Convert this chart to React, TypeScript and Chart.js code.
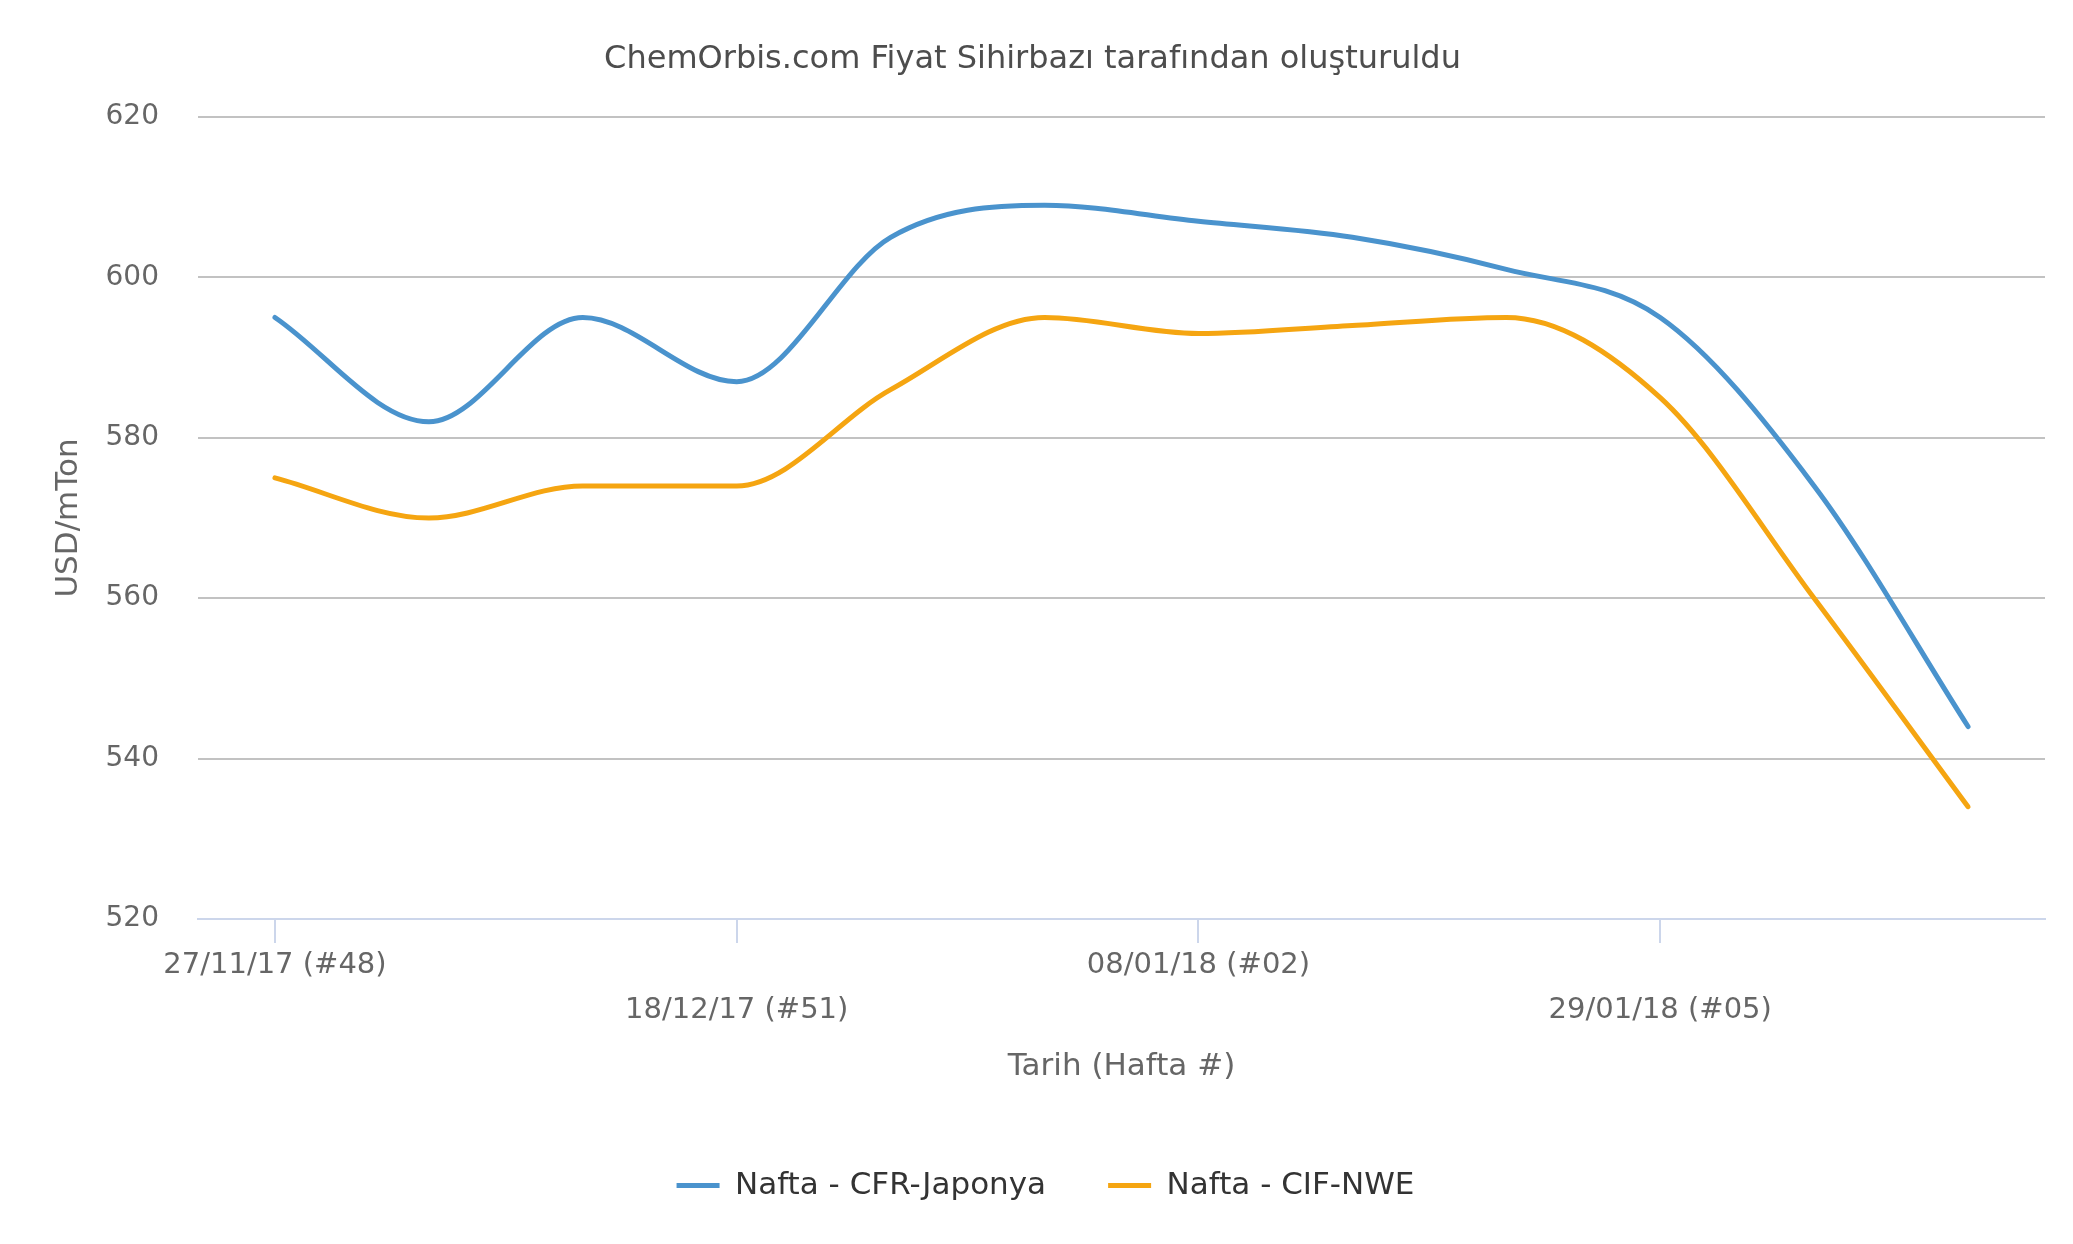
import React, { useEffect, useRef } from 'react';
import { Chart, registerables } from 'chart.js';

Chart.register(...registerables);

// ---- data ----
const weeks = [
  '27/11/17 (#48)', '04/12/17 (#49)', '11/12/17 (#50)', '18/12/17 (#51)',
  '25/12/17 (#52)', '01/01/18 (#01)', '08/01/18 (#02)', '15/01/18 (#03)',
  '22/01/18 (#04)', '29/01/18 (#05)', '05/02/18 (#06)', '12/02/18 (#07)',
];
const tickWeekIndexes = [0, 3, 6, 9];
const cfrJaponya = [595, 582, 595, 587, 605, 609, 607, 605, 601, 595, 574, 544];
const cifNwe = [575, 570, 574, 574, 586, 595, 593, 594, 595, 585, 560, 534];
const yTicks = [520, 540, 560, 580, 600, 620];
const seriesNames = ['Nafta - CFR-Japonya', 'Nafta - CIF-NWE'];
const chartTitle = 'ChemOrbis.com Fiyat Sihirbazı tarafından oluşturuldu';
const xTitle = 'Tarih (Hafta #)';
const yTitle = 'USD/mTon';

const FONT = "'DejaVu Sans', sans-serif";
const BLUE = '#4a93cd';
const ORANGE = '#f5a511';

const legendShift = {
  id: 'legendShift',
  afterLayout(chart: any) {
    if (chart.legend) {
      chart.legend.left += 13;
      chart.legend.right += 13;
    }
  },
};

export default function App() {
  const ref = useRef<HTMLCanvasElement | null>(null);

  useEffect(() => {
    if (!ref.current) return;
    const lineStyle = {
      borderWidth: 5,
      pointRadius: 0,
      cubicInterpolationMode: 'monotone',
      fill: false,
      borderCapStyle: 'round',
      borderJoinStyle: 'round',
    };
    const chart = new Chart(ref.current, {
      type: 'line',
      data: {
        datasets: [
          {
            label: seriesNames[0],
            data: cfrJaponya.map((v, i) => ({ x: i, y: v })),
            borderColor: BLUE,
            backgroundColor: BLUE,
            ...lineStyle,
          },
          {
            label: seriesNames[1],
            data: cifNwe.map((v, i) => ({ x: i, y: v })),
            borderColor: ORANGE,
            backgroundColor: ORANGE,
            ...lineStyle,
          },
        ],
      },
      plugins: [legendShift],
      options: {
        responsive: false,
        animation: false,
        devicePixelRatio: 1,
        layout: { padding: { left: 20, right: 28, top: 0, bottom: 33 } },
        plugins: {
          title: {
            display: true,
            text: chartTitle,
            color: '#4d4d4d',
            font: { family: FONT, size: 32, weight: 'normal', lineHeight: 1.2 },
            padding: { top: 40.5, bottom: 38.1 },
          },
          legend: {
            position: 'bottom',
            labels: {
              font: { family: FONT, size: 31 },
              color: '#333333',
              boxWidth: 43,
              boxHeight: 5,
              padding: 62,
              generateLabels: (c: any) =>
                (Chart.defaults.plugins.legend.labels as any)
                  .generateLabels(c)
                  .map((l: any) => ({ ...l, lineWidth: 0 })),
            },
          },
          tooltip: { enabled: false },
        },
        scales: {
          x: {
            type: 'linear',
            min: -0.5,
            max: weeks.length - 0.5,
            afterBuildTicks: (s: any) => {
              s.ticks = tickWeekIndexes.map((v) => ({ value: v }));
            },
            afterFit: (s: any) => {
              s.height = 189;
            },
            ticks: {
              autoSkip: false,
              maxRotation: 0,
              padding: 0,
              color: '#666666',
              font: { family: FONT, size: 29, lineHeight: 45 / 29 },
              callback: (value: any) => {
                const k = tickWeekIndexes.indexOf(Number(value));
                const label = weeks[Number(value)];
                return k % 2 === 0 ? [label, ''] : ['', label];
              },
            },
            grid: {
              drawOnChartArea: false,
              drawTicks: true,
              tickLength: 24,
              color: '#ccd6eb',
              lineWidth: 2,
            },
            border: { display: true, color: '#ccd6eb', width: 2 },
            title: {
              display: true,
              text: xTitle,
              color: '#666666',
              font: { family: FONT, size: 31, lineHeight: 1.2 },
              padding: { top: 0, bottom: 22.4 },
            },
          },
          y: {
            min: 520,
            max: 620,
            afterBuildTicks: (s: any) => {
              s.ticks = yTicks.map((v) => ({ value: v }));
            },
            afterFit: (s: any) => {
              s.width = 178;
            },
            ticks: {
              color: '#666666',
              font: { family: FONT, size: 28 },
              padding: 39,
            },
            grid: { color: '#c2c2c2', lineWidth: 2, drawTicks: false },
            border: { display: false },
            title: {
              display: true,
              text: yTitle,
              color: '#666666',
              font: { family: FONT, size: 31, lineHeight: 1.2 },
              padding: { top: 30, bottom: 0 },
            },
          },
        },
      } as any,
    });
    return () => chart.destroy();
  }, []);

  return (
    <div style={{ position: 'absolute', left: 0, top: 0, width: 2073, height: 1244, background: '#fff' }}>
      <canvas ref={ref} width={2073} height={1244} style={{ display: 'block' }} />
    </div>
  );
}
